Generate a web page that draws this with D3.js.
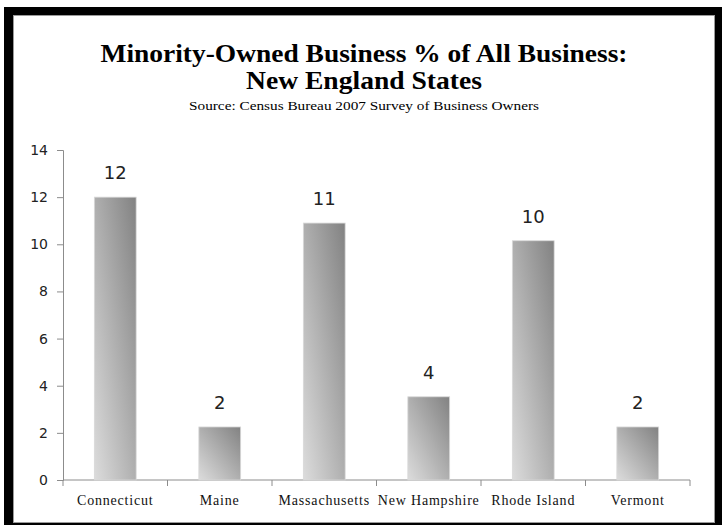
<!DOCTYPE html>
<html>
<head>
<meta charset="utf-8">
<script src="https://cdn.jsdelivr.net/npm/d3@7"></script>
<style>
  body { margin: 0; background: #fff; }
  svg { display: block; }
</style>
</head>
<body>
<div id="chart"></div>
<script>
// Minority-owned business share, New England states
const states = ['Connecticut', 'Maine', 'Massachusetts', 'New Hampshire', 'Rhode Island', 'Vermont'];
const shares = [12.0, 2.25, 10.9, 3.53, 10.15, 2.25];
const yTicks = [0, 2, 4, 6, 8, 10, 12, 14];

const width = 727;
const height = 525;
const margin = { top: 150, right: 37, bottom: 45, left: 63 };

const svg = d3.select('#chart').append('svg')
    .attr('width', width)
    .attr('height', height);

// frame
svg.append('rect')
    .attr('x', 4).attr('y', 7)
    .attr('width', 718).attr('height', 530)
    .attr('fill', '#000');
svg.append('rect')
    .attr('x', 13.5).attr('y', 15.5)
    .attr('width', 701).attr('height', 507)
    .attr('fill', '#fff')
    .attr('stroke', '#9a9a9a')
    .attr('stroke-width', 1);

const defs = svg.append('defs');
const grad = defs.append('linearGradient')
    .attr('id', 'barGrad')
    .attr('x1', 0).attr('y1', 1)
    .attr('x2', 1).attr('y2', 0);
grad.append('stop').attr('offset', '0%').attr('stop-color', '#dcdcdc');
grad.append('stop').attr('offset', '100%').attr('stop-color', '#828282');

const x = d3.scaleBand()
    .domain(states)
    .range([margin.left, width - margin.right])
    .paddingInner(0.6)
    .paddingOuter(0.3);

const y = d3.scaleLinear()
    .domain([0, 14])
    .range([height - margin.bottom, margin.top]);

// titles (widths stretched to match the wider original face)
svg.append('text')
    .attr('x', 364).attr('y', 62)
    .attr('text-anchor', 'middle')
    .attr('textLength', 527)
    .attr('lengthAdjust', 'spacingAndGlyphs')
    .style('font-family', '"Liberation Serif", serif')
    .style('font-weight', '700')
    .style('font-size', '26px')
    .text('Minority-Owned Business % of All Business:');
svg.append('text')
    .attr('x', 364).attr('y', 89)
    .attr('text-anchor', 'middle')
    .attr('textLength', 236)
    .attr('lengthAdjust', 'spacingAndGlyphs')
    .style('font-family', '"Liberation Serif", serif')
    .style('font-weight', '700')
    .style('font-size', '26px')
    .text('New England States');
svg.append('text')
    .attr('x', 364).attr('y', 110)
    .attr('text-anchor', 'middle')
    .attr('textLength', 350)
    .attr('lengthAdjust', 'spacingAndGlyphs')
    .style('font-family', '"Liberation Serif", serif')
    .style('font-size', '13.5px')
    .text('Source: Census Bureau 2007 Survey of Business Owners');

// y axis
const yAxis = svg.append('g')
    .attr('transform', `translate(${margin.left},0)`)
    .call(d3.axisLeft(y).tickValues(yTicks).tickSize(6).tickPadding(9));
yAxis.selectAll('path, line').attr('stroke', '#8c8c8c');
yAxis.selectAll('text')
    .style('font-family', '"DejaVu Sans", sans-serif')
    .style('font-size', '14px')
    .attr('fill', '#222');

// x axis with ticks on category boundaries
const xAxisG = svg.append('g')
    .attr('transform', `translate(0,${y(0)})`);
xAxisG.append('line')
    .attr('x1', margin.left).attr('x2', width - margin.right)
    .attr('stroke', '#8c8c8c');
const bounds = d3.range(states.length + 1).map(i => margin.left + i * (width - margin.left - margin.right) / states.length);
xAxisG.selectAll('.xtick')
    .data(bounds)
    .enter().append('line')
    .attr('x1', d => d).attr('x2', d => d)
    .attr('y1', 0).attr('y2', 6)
    .attr('stroke', '#8c8c8c');
xAxisG.selectAll('.xlabel')
    .data(states)
    .enter().append('text')
    .attr('x', d => x(d) + x.bandwidth() / 2)
    .attr('y', 25)
    .attr('text-anchor', 'middle')
    .style('font-family', '"Liberation Serif", serif')
    .style('font-size', '14px')
    .style('letter-spacing', '0.8px')
    .attr('fill', '#111')
    .text(d => d);

// bars
const data = states.map((s, i) => ({ state: s, value: shares[i] }));
svg.selectAll('.bar')
    .data(data)
    .enter().append('rect')
    .attr('class', 'bar')
    .attr('x', d => x(d.state))
    .attr('y', d => y(d.value))
    .attr('width', x.bandwidth())
    .attr('height', d => y(0) - y(d.value))
    .attr('fill', 'url(#barGrad)')
    .attr('stroke', '#d8d8d8')
    .attr('stroke-width', 0.8);

// value labels
svg.selectAll('.val')
    .data(data)
    .enter().append('text')
    .attr('x', d => x(d.state) + x.bandwidth() / 2)
    .attr('y', d => y(d.value) - 18)
    .attr('text-anchor', 'middle')
    .style('font-family', '"DejaVu Sans", sans-serif')
    .style('font-size', '18px')
    .attr('fill', '#222')
    .text(d => Math.round(d.value));
</script>
</body>
</html>
